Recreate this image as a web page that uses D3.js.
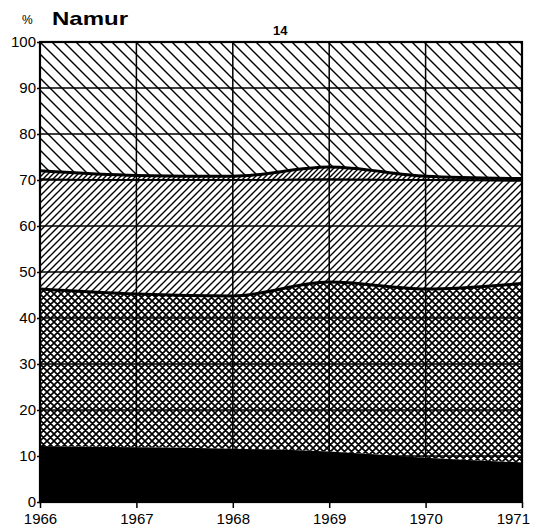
<!DOCTYPE html>
<html>
<head>
<meta charset="utf-8">
<script src="https://cdn.jsdelivr.net/npm/d3@7"></script>
<style>
  body { margin: 0; background: #fff; }
  text { font-family: "Liberation Sans", Arial, Helvetica, sans-serif; fill: #000; }
</style>
</head>
<body>
<svg width="536" height="530"></svg>
<script>
// data (cumulative tops of each band, in %)
var years = [1966, 1967, 1968, 1969, 1970, 1971];
var blackTop = [12.2, 11.9, 11.6, 11.0, 9.6, 8.6];
var crossTop = [46.3, 45.2, 44.8, 47.8, 46.3, 47.5];
var slashTop = [70.2, 70.0, 70.0, 70.2, 70.0, 69.8];
var bandTop  = [72.0, 71.0, 70.8, 72.8, 70.8, 70.3];
var yTicks = [0, 10, 20, 30, 40, 50, 60, 70, 80, 90, 100];

var svg = d3.select("svg"),
    margin = {top: 42, right: 14, bottom: 28, left: 40},
    width = 536 - margin.left - margin.right,
    height = 530 - margin.top - margin.bottom,
    g = svg.append("g").attr("transform", "translate(" + margin.left + "," + margin.top + ")");

var x = d3.scaleLinear().domain([1966, 1971]).range([0, width]);
var y = d3.scaleLinear().domain([0, 100]).range([height, 0]);

// hatch patterns: square tiles with diagonal strokes
var defs = svg.append("defs");
function hatch(id, s, sw, dirs) {
  var p = defs.append("pattern")
      .attr("id", id)
      .attr("patternUnits", "userSpaceOnUse")
      .attr("width", s).attr("height", s);
  p.append("rect").attr("width", s).attr("height", s).attr("fill", "#fff");
  var d = "";
  if (dirs.indexOf("/") >= 0) {
    d += "M-1,1L1,-1M0," + s + "L" + s + ",0M" + (s - 1) + "," + (s + 1) + "L" + (s + 1) + "," + (s - 1);
  }
  if (dirs.indexOf("\\") >= 0) {
    d += "M-1," + (s - 1) + "L1," + (s + 1) + "M0,0L" + s + "," + s + "M" + (s - 1) + ",-1L" + (s + 1) + ",1";
  }
  p.append("path").attr("d", d).attr("stroke", "#000").attr("stroke-width", sw).attr("fill", "none");
}
hatch("back", 12, 1.4, "\\");
hatch("fwd", 7, 1.4, "/");
hatch("band", 5, 1.4, "/");
hatch("cross", 7, 1.7, "/\\");

var rows = years.map(function(yr, i) {
  return {year: yr, b: blackTop[i], c: crossTop[i], s: slashTop[i], t: bandTop[i]};
});

function area(lo, hi) {
  return d3.area()
      .x(function(d) { return x(d.year); })
      .y0(function(d) { return lo ? y(d[lo]) : y(0); })
      .y1(function(d) { return hi ? y(d[hi]) : y(100); })
      .curve(d3.curveMonotoneX);
}

g.append("path").datum(rows).attr("fill", "url(#back)").attr("d", area("t", null));
g.append("path").datum(rows).attr("fill", "url(#band)").attr("d", area("s", "t"));
g.append("path").datum(rows).attr("fill", "url(#fwd)").attr("d", area("c", "s"));
g.append("path").datum(rows).attr("fill", "url(#cross)").attr("d", area("b", "c"));
g.append("path").datum(rows).attr("fill", "#000").attr("d", area(null, "b"));

// grid
g.selectAll(".hgrid").data(yTicks).enter().append("line")
    .attr("x1", 0).attr("x2", width)
    .attr("y1", function(d) { return y(d); }).attr("y2", function(d) { return y(d); })
    .attr("stroke", "#000").attr("stroke-width", 1.5);
g.selectAll(".vgrid").data(years).enter().append("line")
    .attr("x1", function(d) { return x(d); }).attr("x2", function(d) { return x(d); })
    .attr("y1", 0).attr("y2", height)
    .attr("stroke", "#000").attr("stroke-width", 1.5);

// thick boundary lines
function edge(key) {
  return d3.line().x(function(d) { return x(d.year); }).y(function(d) { return y(d[key]); })
      .curve(d3.curveMonotoneX);
}
g.append("path").datum(rows).attr("fill", "none").attr("stroke", "#000")
    .attr("stroke-width", 3).attr("d", edge("c"));
g.append("path").datum(rows).attr("fill", "none").attr("stroke", "#000")
    .attr("stroke-width", 3).attr("d", edge("t"));
g.append("path").datum(rows).attr("fill", "none").attr("stroke", "#000")
    .attr("stroke-width", 1.8).attr("d", edge("s"));

// frame
g.append("rect").attr("width", width).attr("height", height)
    .attr("fill", "none").attr("stroke", "#000").attr("stroke-width", 2.2);

// axes
var yAxis = g.append("g")
    .call(d3.axisLeft(y).tickValues(yTicks).tickSize(3).tickPadding(1));
yAxis.select(".domain").remove();
yAxis.selectAll("line").attr("stroke", "#000").attr("stroke-width", 1.5);
yAxis.selectAll("text").style("font-size", "15px").attr("dy", "0.3em");

var xAxis = g.append("g")
    .attr("transform", "translate(0," + height + ")")
    .call(d3.axisBottom(x).tickValues(years).tickFormat(d3.format("d")).tickSize(6).tickPadding(5));
xAxis.select(".domain").remove();
xAxis.selectAll("line").attr("stroke", "#000").attr("stroke-width", 1.5);
xAxis.selectAll("text").style("font-size", "15px");
xAxis.selectAll("text").filter(function(d) { return d === 1971; }).attr("text-anchor", "end").attr("dx", "0.5em");

// titles
svg.append("text").attr("x", 22).attr("y", 24).style("font-size", "12px").text("%");
svg.append("text").attr("x", 52).attr("y", 25).style("font-size", "19px").style("font-weight", "bold")
    .attr("textLength", 76).attr("lengthAdjust", "spacingAndGlyphs").text("Namur");
svg.append("text").attr("x", 273).attr("y", 35).style("font-size", "13px").style("font-weight", "bold")
    .text("14");
</script>
</body>
</html>
